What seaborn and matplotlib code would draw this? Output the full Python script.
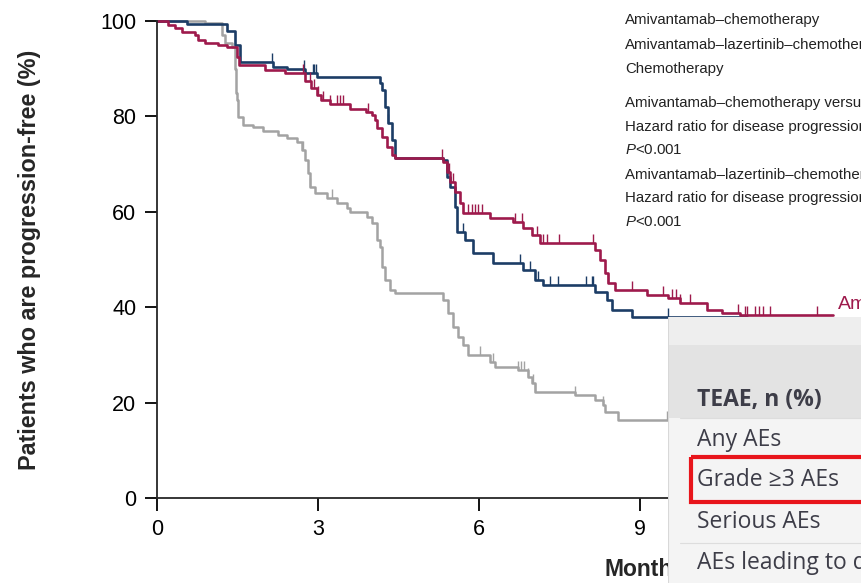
import numpy as np
import pandas as pd
import seaborn as sns
import matplotlib.pyplot as plt
from matplotlib.patches import Rectangle

# Kaplan-Meier steps (months, % progression-free)
ac_time = [0, 0.20, 0.34, 0.47, 0.71, 0.76, 0.89, 1.14, 1.30, 1.49, 1.53, 2.01, 2.38,
           2.76, 2.87, 2.98, 3.05, 3.22, 3.60, 3.90, 4.00, 4.06, 4.10, 4.20, 4.28, 4.38,
           4.44, 5.33, 5.40, 5.46, 5.55, 5.65, 5.70, 6.20, 6.63, 6.82, 6.99, 7.14, 8.16,
           8.25, 8.35, 8.40, 8.53, 9.13, 9.52, 9.74, 10.25, 10.53, 10.86, 12.6]
ac_surv = [100, 99.2, 98.5, 97.7, 97.0, 96.0, 95.4, 95.0, 94.6, 92.5, 90.8, 89.7, 89.0,
           87.5, 86.0, 84.5, 83.5, 82.7, 81.5, 80.9, 80.2, 79.2, 77.6, 75.7, 73.6, 71.9,
           71.3, 70.4, 68.3, 66.2, 64.2, 61.8, 59.7, 58.7, 57.9, 56.6, 55.1, 53.5, 52.0,
           49.9, 47.2, 45.1, 43.6, 42.6, 41.9, 40.9, 39.4, 38.8, 38.4, 38.4]
ac_cens = [2.72, 2.85, 2.93, 3.00, 3.09, 3.22, 3.35, 3.41, 3.47, 3.93, 5.31, 5.45, 5.52,
           5.80, 5.87, 5.93, 5.98, 6.05, 6.67, 6.80, 7.08, 7.20, 7.27, 7.50, 8.13, 8.40,
           8.85, 9.43, 9.60, 9.67, 9.74, 9.93, 10.83, 10.96, 11.00, 11.14, 11.22, 11.30,
           11.42, 12.30]

alc_time = [0, 0.55, 1.30, 1.45, 1.55, 2.16, 2.42, 2.76, 2.98, 4.15, 4.20, 4.25, 4.30,
            4.38, 4.44, 5.32, 5.40, 5.46, 5.55, 5.59, 5.74, 5.89, 6.26, 6.82, 7.04, 7.19,
            8.16, 8.39, 8.48, 8.85, 11.0]
alc_surv = [100, 99.4, 98.0, 95.0, 91.4, 90.4, 89.9, 89.2, 88.3, 87.0, 85.5, 82.0, 78.6,
            75.0, 71.3, 70.9, 67.3, 65.2, 61.0, 55.8, 54.1, 51.4, 49.3, 47.8, 45.7, 44.7,
            43.2, 41.5, 39.4, 38.0, 38.0]
alc_cens = [2.14, 2.74, 2.90, 2.93, 2.96, 4.30, 5.70, 6.76, 6.95, 7.10, 7.32, 7.47, 8.00,
            8.10, 8.13, 9.52]

chemo_time = [0, 0.90, 1.21, 1.27, 1.40, 1.45, 1.48, 1.50, 1.51, 1.60, 1.79, 1.97, 2.26,
              2.42, 2.61, 2.70, 2.76, 2.81, 2.85, 2.94, 3.17, 3.35, 3.54, 3.60, 3.91, 4.00,
              4.10, 4.15, 4.19, 4.25, 4.34, 4.43, 5.33, 5.42, 5.51, 5.61, 5.70, 5.79, 6.20,
              6.30, 6.73, 6.91, 6.99, 7.04, 7.79, 8.16, 8.31, 8.35, 8.59, 10.5]
chemo_surv = [100, 99.6, 97.0, 95.4, 94.6, 90.0, 85.0, 83.4, 79.9, 78.2, 77.8, 76.9, 76.1,
              75.5, 74.6, 73.0, 70.9, 68.1, 65.2, 63.9, 62.9, 61.8, 60.8, 60.0, 59.0, 57.7,
              54.1, 52.6, 48.4, 45.7, 43.6, 43.0, 41.5, 38.8, 35.8, 33.8, 32.1, 30.0, 28.5,
              27.5, 26.8, 25.4, 24.1, 22.2, 21.6, 20.5, 19.5, 18.0, 16.4, 16.4]
chemo_cens = [2.72, 2.85, 3.26, 6.02, 6.26, 6.73, 6.78, 6.83, 6.91, 7.00, 7.05, 7.79,
              8.31, 9.50]

x_ticks = [0, 3, 6, 9]
y_ticks = [0, 20, 40, 60, 80, 100]

legend_lines = [
    "Amivantamab–chemotherapy",
    "Amivantamab–lazertinib–chemotherapy",
    "Chemotherapy",
    "Amivantamab–chemotherapy versus chemotherapy",
    "Hazard ratio for disease progression or death, 0.48 (95% CI, 0.36–0.64)",
    "$P$<0.001",
    "Amivantamab–lazertinib–chemotherapy versus chemotherapy",
    "Hazard ratio for disease progression or death, 0.44 (95% CI, 0.35–0.56)",
    "$P$<0.001",
]
legend_y = [20, 45, 69, 103, 127, 150, 175, 198, 222]

table_rows = ["TEAE, n (%)", "Any AEs", "Grade ≥3 AEs", "Serious AEs",
              "AEs leading to discontinuation"]
table_y = [400, 440, 480, 522, 563]

RED = "#9e1a4c"
BLUE = "#1c3d66"
GREY = "#a3a3a3"


def surv_at(times, surv, t):
    idx = np.searchsorted(times, t, side="right") - 1
    return np.asarray(surv)[idx]


sns.set_style("ticks")
plt.rcParams["font.family"] = ["Liberation Sans", "DejaVu Sans"]
plt.rcParams["mathtext.fontset"] = "custom"
plt.rcParams["mathtext.rm"] = "Liberation Sans"
plt.rcParams["mathtext.it"] = "Liberation Sans:italic"

fig = plt.figure(figsize=(8.62, 5.83), dpi=100)
ax = fig.add_axes([157 / 862, 85 / 583, 966 / 862, 477 / 583])

curves = [
    (chemo_time, chemo_surv, chemo_cens, GREY, 1.8),
    (alc_time, alc_surv, alc_cens, BLUE, 1.9),
    (ac_time, ac_surv, ac_cens, RED, 1.9),
]
for t, s, c, col, lw in curves:
    df = pd.DataFrame({"Months": t, "PFS": s})
    sns.lineplot(data=df, x="Months", y="PFS", ax=ax, color=col, linewidth=lw,
                 drawstyle="steps-post", estimator=None, sort=False, clip_on=False)
    cdf = pd.DataFrame({"Months": c, "PFS": surv_at(t, s, c)})
    sns.lineplot(data=cdf, x="Months", y="PFS", ax=ax, color=col, linestyle="",
                 marker=[(0, 0), (0, 1)], markersize=13, markeredgewidth=1.0,
                 markeredgecolor=col, markerfacecolor=col,
                 estimator=None, sort=False)

ax.set_xlim(0, 18)
ax.set_ylim(0, 100)
ax.set_xticks(x_ticks)
ax.set_yticks(y_ticks)
sns.despine(ax=ax)
for sp in ("left", "bottom"):
    ax.spines[sp].set_linewidth(1.3)
ax.tick_params(length=9, width=1.3, labelsize=15.5, pad=6, colors="black")
ax.set_xlabel("Months", fontsize=16.5, fontweight="bold")
ax.set_ylabel("Patients who are progression-free (%)", fontsize=16.8, fontweight="bold")
ax.xaxis.set_label_coords(0.505, -0.125)
ax.yaxis.set_label_coords(-0.12, 0.5)

for txt, y in zip(legend_lines, legend_y):
    fig.text(625 / 862, 1 - y / 583, txt, fontsize=10.8, va="center", ha="left",
             color="#222222")

ax.text(12.69, 40.6, "Amivantamab–chemotherapy", color=RED, fontsize=14,
        va="center", ha="left", clip_on=False)

# screenshot of the safety table lying over the lower right corner
tab = fig.add_axes([668 / 862, 0, 194 / 862, 266 / 583], zorder=5)
tab.set_xlim(668, 862)
tab.set_ylim(583, 317)
tab.axis("off")
tab.add_patch(Rectangle((668, 317), 200, 270, color="#f4f4f4", lw=0))
tab.add_patch(Rectangle((668, 317), 200, 28, color="#eeeeee", lw=0))
tab.add_patch(Rectangle((668, 345), 200, 73, color="#e3e3e3", lw=0))
tab.plot([668, 668], [317, 583], color="#d8d8d8", lw=1.5)
for yy in (418, 543):
    tab.plot([680, 862], [yy, yy], color="#dddddd", lw=0.8)
for i, (txt, y) in enumerate(zip(table_rows, table_y)):
    tab.text(697, y, txt, family=["Open Sans", "DejaVu Sans"], fontsize=16.5,
             fontstretch="normal", fontweight="bold" if i == 0 else "normal",
             color="#3d3d48", va="center", ha="left")
tab.add_patch(Rectangle((691, 457), 200, 45, fill=False, edgecolor="#e8151b",
                        lw=3.0, zorder=4))

fig.savefig("out.png", dpi=100)
